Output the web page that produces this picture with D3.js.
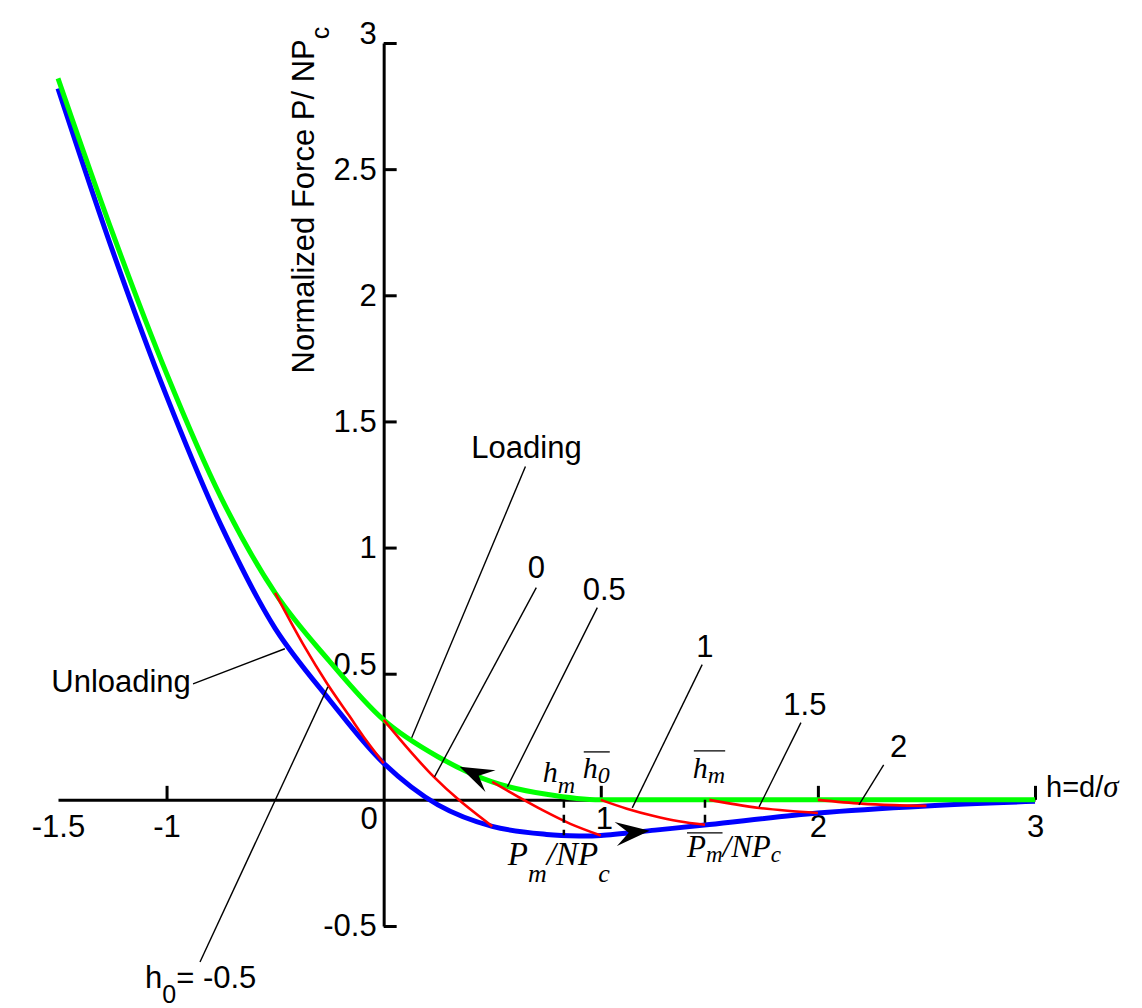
<!DOCTYPE html>
<html>
<head>
<meta charset="utf-8">
<script src="https://cdn.jsdelivr.net/npm/d3@7"></script>
<style>
  body { margin: 0; background: #fff; }
  svg { display: block; font-family: 'Liberation Sans', Arial, Helvetica, sans-serif; }
  .math { font-family: 'Liberation Serif', 'Times New Roman', serif; font-style: italic; }
</style>
</head>
<body>
<svg id="chart" width="1142" height="1008"></svg>
<script>
// values (h = d/sigma, P/NPc)
const loadingH = [-1.5, -1.25, -1, -0.75, -0.5, -0.25, 0, 0.25, 0.5, 0.75, 1, 1.5, 2, 2.5, 3]
const loadingP = [2.86, 2.25, 1.69, 1.2, 0.82, 0.55, 0.317, 0.171, 0.071, 0.022, 0, 0, 0, 0, 0]

const unloadingH = [-1.5, -1.25, -1, -0.75, -0.5, -0.25, 0, 0.25, 0.5, 0.75, 0.9, 1, 1.25, 1.5, 2, 2.5, 3]
const unloadingP = [2.82, 2.18, 1.6, 1.09, 0.68, 0.397, 0.145, -0.02, -0.105, -0.137, -0.143, -0.141, -0.12, -0.098, -0.052, -0.024, -0.006]

// partial unloading paths, one per starting h0
const startH0 = ['-0.5', '0', '0.5', '1', '1.5', '2']
const partialH = [
  [-0.5, -0.37, -0.26, -0.16, -0.08, 0],
  [0, 0.12, 0.23, 0.35, 0.5],
  [0.5, 0.62, 0.73, 0.86, 1.0],
  [1, 1.12, 1.24, 1.36, 1.48],
  [1.5, 1.62, 1.73, 1.86, 2.0],
  [2, 2.2, 2.35, 2.5]
]
const partialP = [
  [0.82, 0.615, 0.46, 0.335, 0.235, 0.145],
  [0.317, 0.195, 0.092, -0.003, -0.105],
  [0.071, 0.012, -0.04, -0.095, -0.141],
  [0, -0.035, -0.063, -0.085, -0.099],
  [0, -0.018, -0.032, -0.043, -0.052],
  [0, -0.015, -0.021, -0.024]
]

const xTicks = [-1.5, -1, 0, 1, 2, 3]
const yTicks = [-0.5, 0, 0.5, 1, 1.5, 2, 2.5, 3]
const markH = [0.83, 1.48] // h_m and mean h_m

// callouts: text, label h, label P, leader from (h,P) to (h,P)
const callouts = [
  ['Loading', 0.658, 1.357, 0.653, 1.321, 0.129, 0.246, 'middle'],
  ['0', 0.703, 0.881, 0.703, 0.841, 0.234, 0.091, 'middle'],
  ['0.5', 1.016, 0.794, 0.984, 0.762, 0.570, 0.052, 'middle'],
  ['1', 1.480, 0.567, 1.467, 0.536, 1.145, -0.032, 'middle'],
  ['1.5', 1.940, 0.337, 1.922, 0.306, 1.729, -0.028, 'middle'],
  ['2', 2.372, 0.171, 2.303, 0.139, 2.189, -0.02, 'middle'],
  ['Unloading', -0.888, 0.429, -0.878, 0.46, -0.455, 0.599, 'end']
]

const W = 1142
const H = 1008
const margin = { top: 43, right: 107, bottom: 82, left: 58 }
const FONT = 31

const svg = d3.select('#chart')
const x = d3.scaleLinear().domain([-1.5, 3]).range([margin.left, W - margin.right])
const y = d3.scaleLinear().domain([-0.5, 3]).range([H - margin.bottom, margin.top])

// axes
const xAxis = svg.append('g')
  .attr('transform', `translate(0,${y(0)})`)
  .call(d3.axisBottom(x).tickValues(xTicks).tickSize(-14).tickSizeOuter(0).tickPadding(15)
    .tickFormat(d => String(d)))
const yAxis = svg.append('g')
  .attr('transform', `translate(${x(0)},0)`)
  .call(d3.axisLeft(y).tickValues(yTicks).tickSize(-13).tickSizeOuter(0).tickPadding(7)
    .tickFormat(d => String(d)))

;[xAxis, yAxis].forEach(a => {
  a.attr('font-family', null).attr('font-size', FONT)
  a.select('.domain').attr('stroke', '#000').attr('stroke-width', 3)
  a.selectAll('.tick line').attr('stroke', '#000').attr('stroke-width', 3)
  a.selectAll('.tick text').attr('fill', '#000')
})
xAxis.selectAll('.tick').filter(d => d === -1.5 || d === 0).select('line').remove()
xAxis.selectAll('.tick').filter(d => d === 0).select('text').attr('x', -15).attr('dy', '0.45em')
xAxis.selectAll('.tick').filter(d => d === 1).select('text').attr('x', 3).attr('dy', '0.45em')
yAxis.selectAll('.tick').filter(d => d === 0).remove()
yAxis.selectAll('.tick').filter(d => d === 3 || d === 0.5).select('text').attr('dy', '0.02em')

// axis titles
svg.append('text')
  .attr('transform', `translate(${x(0) - 70},${y(1.69)}) rotate(-90)`)
  .attr('font-size', FONT)
  .text('Normalized Force P/ NP')
  .append('tspan').attr('dy', 15).attr('font-size', 25).text('c')

const xt = svg.append('text')
  .attr('x', x(3) + 11).attr('y', y(0) - 3)
  .attr('font-size', 29)
  .text('h=d/')
xt.append('tspan').attr('class', 'math').attr('font-size', 31).text('σ')

// curves
const line = d3.line().x(d => x(d[0])).y(d => y(d[1])).curve(d3.curveCatmullRom.alpha(0.5))
const flatLine = d3.line().x(d => x(d[0])).y(d => y(d[1])).curve(d3.curveMonotoneX)
const zip = (a, b) => a.map((v, i) => [v, b[i]])

const curves = svg.append('g').attr('fill', 'none').attr('stroke-linecap', 'butt')
curves.append('path')
  .attr('d', line(zip(unloadingH, unloadingP)))
  .attr('stroke', '#0000ff').attr('stroke-width', 5)
curves.append('path')
  .attr('d', flatLine(zip(loadingH, loadingP)))
  .attr('stroke', '#00ff00').attr('stroke-width', 5)
curves.selectAll('.partial')
  .data(startH0)
  .join('path')
  .attr('class', 'partial')
  .attr('d', (d, i) => line(zip(partialH[i], partialP[i])))
  .attr('stroke', '#ff0000').attr('stroke-width', 2.6)

// dashed markers down to the unloading curve
const unloadAt = d3.scaleLinear().domain(unloadingH).range(unloadingP)
svg.append('g').selectAll('line')
  .data(markH)
  .join('line')
  .attr('x1', d => x(d)).attr('x2', d => x(d))
  .attr('y1', y(0)).attr('y2', d => y(unloadAt(d)))
  .attr('stroke', '#000').attr('stroke-width', 2.5)
  .attr('stroke-dasharray', '8,7')

// direction arrows
const loadAt = d3.scaleLinear().domain(loadingH).range(loadingP)
function arrow (h, f, dir) {
  const x0 = x(h)
  const y0 = y(f(h))
  const x1 = x(h - dir * 0.1)
  const y1 = y(f(h - dir * 0.1))
  const ang = Math.atan2(y0 - y1, x0 - x1) * 180 / Math.PI
  svg.append('path')
    .attr('d', 'M0,0L-34,-12L-21,0L-34,12Z')
    .attr('transform', `translate(${x0},${y0}) rotate(${ang})`)
    .attr('fill', '#000')
}
arrow(0.35, loadAt, -1)
arrow(1.225, unloadAt, 1)

// callouts
const notes = svg.append('g')
callouts.forEach(c => {
  notes.append('line')
    .attr('x1', x(c[3])).attr('y1', y(c[4]))
    .attr('x2', x(c[5])).attr('y2', y(c[6]))
    .attr('stroke', '#000').attr('stroke-width', 1.4)
  notes.append('text')
    .attr('x', x(c[1])).attr('y', y(c[2]))
    .attr('text-anchor', c[7])
    .attr('font-size', FONT)
    .text(c[0])
})

// h0 = -0.5 callout
notes.append('line')
  .attr('x1', x(-0.846)).attr('y1', y(-0.643))
  .attr('x2', x(-0.257)).attr('y2', y(0.448))
  .attr('stroke', '#000').attr('stroke-width', 1.4)
const h0t = notes.append('text')
  .attr('x', x(-1.099)).attr('y', y(-0.746))
  .attr('font-size', FONT)
  .text('h')
h0t.append('tspan').attr('dy', 15).attr('font-size', 25).text('0')
h0t.append('tspan').attr('dy', -15).text('= ' + startH0[0])

// math labels
function mathLabel (h, p, pieces, size, subSize, bar) {
  const t = svg.append('text')
    .attr('class', 'math')
    .attr('x', x(h)).attr('y', y(p))
    .attr('font-size', size)
  let shift = 0
  pieces.forEach(pc => {
    const s = pc[1] || 0
    t.append('tspan')
      .attr('dy', s - shift)
      .attr('font-size', s ? subSize : size)
      .text(pc[0])
    shift = s
  })
  const b = t.node().getBBox()
  if (bar) {
    svg.append('line')
      .attr('x1', b.x + 1).attr('x2', b.x + b.width)
      .attr('y1', y(p) - bar).attr('y2', y(p) - bar)
      .attr('stroke', '#000').attr('stroke-width', 1.3)
  }
  return b
}

mathLabel(0.733, 0.071, [['h'], ['m', 11]], 30, 24)
mathLabel(0.917, 0.087, [['h'], ['0', 5]], 30, 24, 26)
mathLabel(1.424, 0.087, [['h'], ['m', 5]], 30, 24, 27)
mathLabel(0.572, -0.258, [['P'], ['m', 17], ['/NP'], ['c', 17]], 33, 26)
const pb = mathLabel(1.397, -0.226, [['P'], ['m', 5]], 31, 23, 24)
mathLabel(x.invert(pb.x + pb.width), -0.226, [['/NP'], ['c', 5]], 31, 23)
</script>
</body>
</html>
